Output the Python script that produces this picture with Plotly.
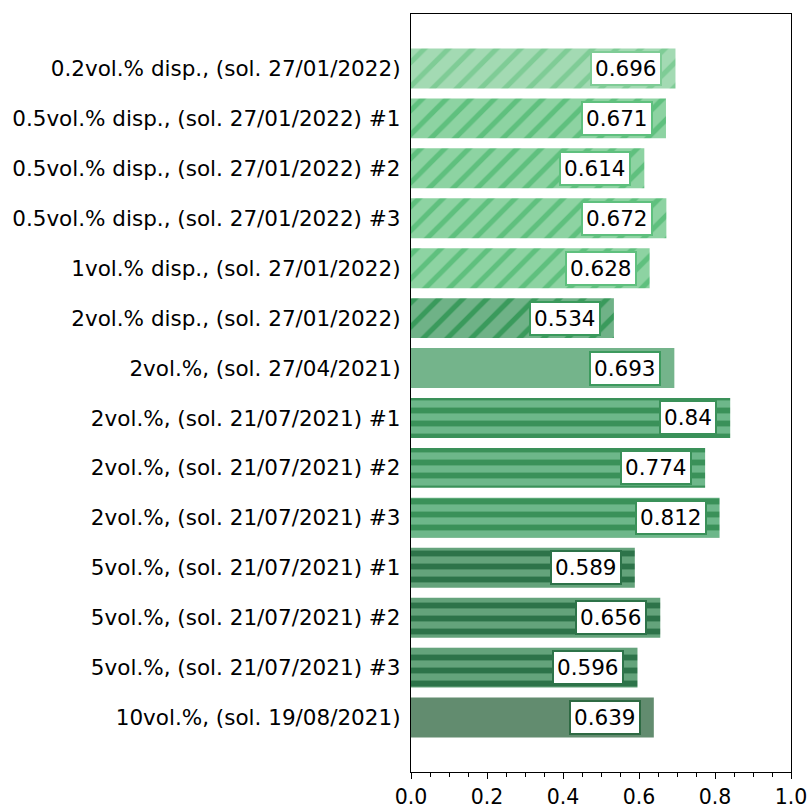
import plotly.graph_objects as go

labels = [
    "0.2vol.% disp., (sol. 27/01/2022)",
    "0.5vol.% disp., (sol. 27/01/2022) #1",
    "0.5vol.% disp., (sol. 27/01/2022) #2",
    "0.5vol.% disp., (sol. 27/01/2022) #3",
    "1vol.% disp., (sol. 27/01/2022)",
    "2vol.% disp., (sol. 27/01/2022)",
    "2vol.%, (sol. 27/04/2021)",
    "2vol.%, (sol. 21/07/2021) #1",
    "2vol.%, (sol. 21/07/2021) #2",
    "2vol.%, (sol. 21/07/2021) #3",
    "5vol.%, (sol. 21/07/2021) #1",
    "5vol.%, (sol. 21/07/2021) #2",
    "5vol.%, (sol. 21/07/2021) #3",
    "10vol.%, (sol. 19/08/2021)",
]
values = [0.696, 0.671, 0.614, 0.672, 0.628, 0.534, 0.693, 0.84, 0.774, 0.812,
          0.589, 0.656, 0.596, 0.639]
x_ticks = [0.0, 0.2, 0.4, 0.6, 0.8, 1.0]
x_ticktext = ["0.0", "0.2", "0.4", "0.6", "0.8", "1.0"]
bg_colors = ["#a3dab3", "#8dd3a2", "#8dd3a2", "#8dd3a2", "#8dd3a2", "#6fb287",
             "#74b48b", "#6db78a", "#6db78a", "#6db78a", "#64a37b", "#64a37b",
             "#64a37b", "#628c6f"]
fg_colors = ["#7fcc96", "#5fc07e", "#5fc07e", "#5fc07e", "#5fc07e", "#3a9a5c",
             "#3d9a5e", "#3a9159", "#3a9159", "#3a9159", "#2d7349", "#2d7349",
             "#2d7349", "#2e6a43"]
patterns = ["/", "/", "/", "/", "/", "/", "", "-", "-", "-", "-", "-", "-", ""]

FONT = "DejaVu Sans"
FS = 21.5
idx = list(range(len(labels)))

fig = go.Figure()
for i in idx:
    fig.add_trace(go.Bar(
        x=[values[i]], y=[i], orientation="h", width=0.8,
        marker=dict(
            color=bg_colors[i],
            line=dict(width=0),
            pattern=dict(shape=patterns[i], fgcolor=fg_colors[i], bgcolor=bg_colors[i],
                         size=17 if patterns[i] == "/" else 13,
                         solidity=0.3 if patterns[i] == "/" else 0.45,
                         fillmode="replace"),
        ),
        showlegend=False, hoverinfo="skip",
    ))
    fig.add_annotation(
        x=values[i], y=i, xref="x", yref="y", text=str(values[i]),
        showarrow=False, xanchor="right", yanchor="middle", xshift=-13,
        font=dict(family=FONT, size=FS, color="black"),
        bgcolor="white", bordercolor=fg_colors[i], borderwidth=2, borderpad=3,
    )

fig.update_layout(
    width=808, height=807,
    margin=dict(l=411, r=17, t=14, b=35, autoexpand=False),
    plot_bgcolor="white", paper_bgcolor="white",
    font=dict(family=FONT, size=FS, color="black"),
    barmode="overlay",
)
fig.update_xaxes(
    range=[0, 1.0], tickvals=x_ticks, ticktext=x_ticktext,
    ticks="outside", ticklen=6, tickwidth=1.2, tickcolor="black",
    minor=dict(dtick=0.05, ticks="outside", ticklen=3.5, tickwidth=1, tickcolor="black", showgrid=False),
    showline=True, linecolor="black", linewidth=1.3, mirror=True,
    showgrid=False, zeroline=False, automargin=False,
    ticklabeloverflow="allow", ticklabelstandoff=0,
    tickfont=dict(family=FONT, size=20.5),
)
fig.update_yaxes(
    range=[len(labels) - 1 + 1.09, -1.09], tickvals=idx, ticktext=labels,
    ticks="", ticklabelstandoff=5,
    showline=True, linecolor="black", linewidth=1.3, mirror=True,
    showgrid=False, zeroline=False, automargin=False,
    tickfont=dict(family=FONT, size=FS),
)

fig.write_html("out.html", config={"displayModeBar": False},
               post_script="document.body.style.margin='0';document.body.style.overflow='hidden';")
